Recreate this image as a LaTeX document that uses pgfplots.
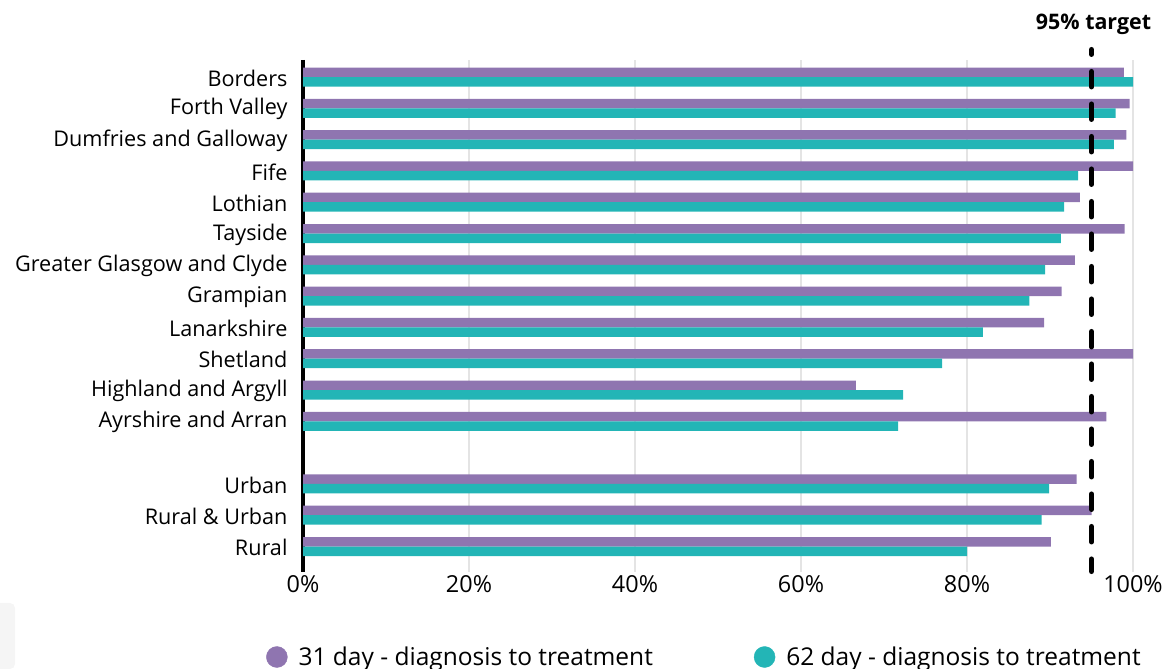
\documentclass[border=0pt]{standalone}
\usepackage{pgfplots}
\pgfplotsset{compat=1.18}
\usepackage{pgfplotstable}
\usepackage{fontspec}
\setmainfont{Open Sans}
\definecolor{purp}{HTML}{8F75B0}
\definecolor{tealb}{HTML}{23B5B6}
\definecolor{gridc}{HTML}{E4E4E4}

% Share of patients treated within target, by board and by area type
\pgfplotstableread{
pos d31 d62
0 98.9 100
1 99.6 97.9
2 99.2 97.7
3 100 93.4
4 93.6 91.7
5 99.0 91.3
6 93.0 89.4
7 91.4 87.5
8 89.3 81.9
9 100 77.0
10 66.6 72.3
11 96.8 71.7
13 93.2 89.9
14 95.0 89.0
15 90.1 80.0
}\boards

\begin{document}
\begin{tikzpicture}
\useasboundingbox (0bp,0bp) rectangle (1167bp,669bp);
\fill[black!4, rounded corners=5bp] (-10bp,0bp) rectangle (15bp,66bp);
\begin{axis}[
  at={(303bp,592bp)}, anchor=origin,
  x=8.3bp, y=31.3bp, y dir=reverse,
  xmin=0, xmax=100, ymin=-0.55, ymax=15.8,
  clip=false,
  axis x line*=bottom, x axis line style={draw=none},
  axis y line*=left, y axis line style={line width=3bp, black},
  xtick={0,20,40,60,80,100},
  xticklabels={0\%,20\%,40\%,60\%,80\%,100\%},
  ytick={0,1,2,3,4,5,6,7,8,9,10,11,13,14,15},
  yticklabels={Borders,Forth Valley,Dumfries and Galloway,Fife,Lothian,Tayside,Greater Glasgow and Clyde,Grampian,Lanarkshire,Shetland,Highland and Argyll,Ayrshire and Arran,Urban,Rural \& Urban,Rural},
  major tick length=0pt,
  xmajorgrids, grid style={gridc, line width=1.5bp},
  xticklabel style={font=\fontsize{23.5}{28}\selectfont},
  yticklabel style={font=\fontsize{21.7}{26}\selectfont, xshift=-12bp, yshift=-1bp},
  legend columns=2,
  legend style={at={(-0.0446,-0.167)}, anchor=west, draw=none, fill=none,
    inner sep=0pt, font=\fontsize{24.6}{29}\selectfont,
    /tikz/every even column/.append style={column sep=99bp}},
]
\addlegendimage{legend image code/.code={\fill[purp] (10.5bp,0bp) circle (10.5bp); \path (30bp,0bp);}}
\addlegendentry{31 day - diagnosis to treatment}
\addlegendimage{legend image code/.code={\fill[tealb] (10.5bp,0bp) circle (10.5bp); \path (30bp,0bp);}}
\addlegendentry{62 day - diagnosis to treatment}

\addplot[xbar, fill=purp, draw=none, bar width=9.5bp, bar shift=4.75bp, forget plot]
  table[x=d31, y=pos] {\boards};
\addplot[xbar, fill=tealb, draw=none, bar width=9.5bp, bar shift=-4.75bp, forget plot]
  table[x=d62, y=pos] {\boards};

% 95% target line
\addplot[black, line width=5bp, line cap=round, dash pattern=on 15.5bp off 17bp,
  dash phase=10.5bp, forget plot] coordinates {(95,-0.88) (95,15.8)};
\node[font=\bfseries\fontsize{21.5}{26}\selectfont, xshift=2bp] at (axis cs:95,-1.69) {95\% target};
\end{axis}
\end{tikzpicture}
\end{document}
